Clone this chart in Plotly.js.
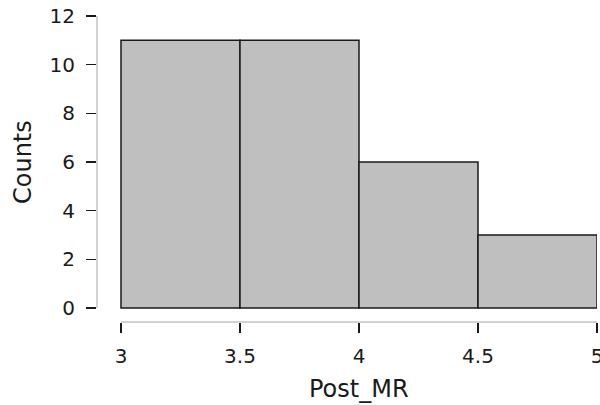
<!DOCTYPE html>
<html>
<head>
<meta charset="utf-8">
<script src="https://cdn.plot.ly/plotly-3.0.1.min.js"></script>
<style>html,body{margin:0;padding:0;background:#fff;}</style>
</head>
<body>
<div id="chart" style="width:600px;height:405px;"></div>
<script>
// Histogram of Post_MR
const binStarts = [3, 3.5, 4, 4.5];
const binWidth = 0.5;
const counts = [11, 11, 6, 3];
const xTicks = [3, 3.5, 4, 4.5, 5];
const xTickLabels = ['3', '3.5', '4', '4.5', '5'];
const yTicks = [0, 2, 4, 6, 8, 10, 12];
const xTitle = 'Post_MR';
const yTitle = 'Counts';

const binCenters = binStarts.map(s => s + binWidth / 2);

const trace = {
  type: 'bar',
  x: binCenters,
  y: counts,
  width: binStarts.map(() => binWidth),
  marker: { color: '#bfbfbf', line: { color: '#1a1a1a', width: 1.5 } },
  hoverinfo: 'x+y'
};

const font = '"DejaVu Sans", sans-serif';
const xMin = xTicks[0], xMax = xTicks[xTicks.length - 1];
const yMin = yTicks[0], yMax = yTicks[yTicks.length - 1];

const layout = {
  width: 600,
  height: 405,
  margin: { l: 97, r: 3, t: 16, b: 83 },
  paper_bgcolor: '#ffffff',
  plot_bgcolor: '#ffffff',
  showlegend: false,
  bargap: 0,
  xaxis: {
    range: [2.8992, 5],
    tickvals: xTicks,
    ticktext: xTickLabels,
    ticks: 'outside',
    ticklen: 10,
    tickwidth: 1.5,
    tickcolor: '#1a1a1a',
    ticklabelstandoff: 6,
    ticklabeloverflow: 'allow',
    showgrid: false,
    zeroline: false,
    showline: false,
    tickfont: { family: font, size: 20, color: '#1a1a1a' },
    automargin: false,
    fixedrange: true
  },
  yaxis: {
    range: [-0.575, 12],
    tickvals: yTicks,
    ticks: 'outside',
    ticklen: 10,
    tickwidth: 1.5,
    tickcolor: '#1a1a1a',
    ticklabelstandoff: 7,
    showgrid: false,
    zeroline: false,
    showline: false,
    tickfont: { family: font, size: 20, color: '#1a1a1a' },
    automargin: false,
    fixedrange: true
  },
  annotations: [
    { text: xTitle, xref: 'x', yref: 'paper', x: (xMin + xMax) / 2, y: (322 - 389) / 306,
      xanchor: 'center', yanchor: 'middle', showarrow: false,
      font: { family: font, size: 24, color: '#1a1a1a' } },
    { text: yTitle, xref: 'paper', yref: 'y', x: (23 - 97) / 500, y: (yMin + yMax) / 2,
      xanchor: 'center', yanchor: 'middle', showarrow: false, textangle: -90,
      font: { family: font, size: 24, color: '#1a1a1a' } }
  ],
  shapes: [
    { type: 'line', xref: 'paper', yref: 'y', x0: 0, x1: 0, y0: yMin, y1: yMax,
      line: { color: '#a6a6a6', width: 1 } },
    { type: 'line', xref: 'x', yref: 'paper', x0: xMin, x1: xMax, y0: 0, y1: 0,
      line: { color: '#a6a6a6', width: 1 } }
  ]
};

Plotly.newPlot('chart', [trace], layout, { displayModeBar: false, staticPlot: true });
</script>
</body>
</html>
